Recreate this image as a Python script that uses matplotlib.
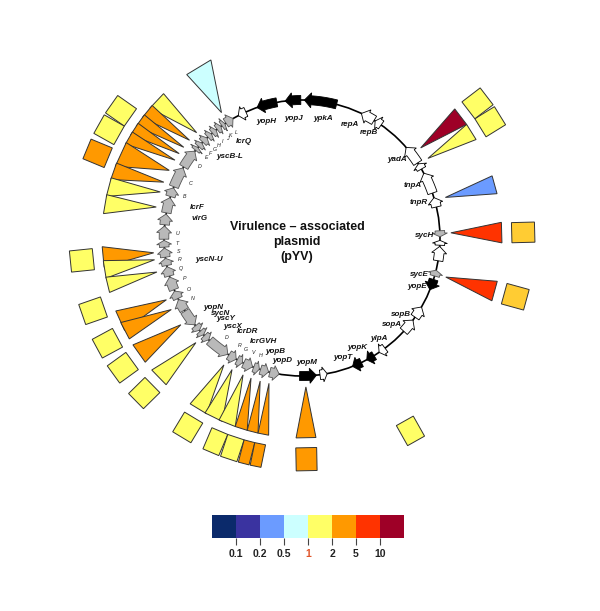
import numpy as np
import matplotlib
matplotlib.use("Agg")
import matplotlib.pyplot as plt
from matplotlib.patches import Polygon, Circle
from matplotlib.colors import ListedColormap, BoundaryNorm, to_rgb
from matplotlib.cm import ScalarMappable

plt.rcParams['font.family'] = ['Liberation Sans', 'DejaVu Sans']

# fold-change colour key
scale_ticks = ['0.1', '0.2', '0.5', '1', '2', '5', '10']
scale_colors = ['#0b2a6b', '#3a33a0', '#6b9bff', '#ccffff',
                '#ffff66', '#ff9900', '#ff3300', '#9e0027']

# genes on pYV, map position in degrees clockwise from the top
gene_name = ['ypkA', 'yopJ', 'yopH', 'lcrQ', 'repA', 'repB', 'yadA', '', 'tnpA', 'tnpR',
             'sycH', '', '', 'sycE', 'yopE', 'sopB', 'sopA', 'ylpA', 'yopK', 'yopT', '', 'yopM',
             'yopD', 'yopB', 'lcrH', 'lcrV', 'lcrG', 'lcrR', 'lcrD', 'yscX', 'yscY', 'sycN', 'yopN',
             'yscN', 'yscO', 'yscP', 'yscQ', 'yscR', 'yscS', 'yscT', 'yscU', 'virG', 'lcrF',
             'yscB', 'yscC', 'yscD', 'yscE', 'yscF', 'yscG', 'yscH', 'yscI', 'yscJ', 'yscK', 'yscL']
gene_start = [1.0, 353.0, 341.0, 332.5, 25.5, 32.0, 49.0, 57.5, 62.0, 73.0,
              87.0, 91.0, 93.5, 103.5, 107.5, 120.0, 126.5, 143.0, 148.5, 154.5, 169.5, 174.0,
              189.5, 194.0, 198.0, 201.0, 205.5, 208.5, 212.5, 222.5, 225.5, 228.0, 231.0,
              238.5, 244.0, 248.0, 254.0, 258.5, 262.0, 266.2, 269.5, 275.5, 280.5,
              287.5, 291.8, 301.0, 309.5, 311.5, 314.0, 317.0, 319.5, 322.0, 324.5, 326.5]
gene_end = [14.5, 359.5, 349.5, 336.0, 31.5, 35.0, 57.0, 60.0, 71.0, 77.0,
            89.5, 93.0, 99.5, 106.0, 112.0, 125.0, 132.5, 146.0, 152.0, 158.5, 172.5, 181.0,
            193.5, 197.5, 200.5, 205.0, 208.0, 212.0, 222.0, 225.0, 227.5, 230.5, 238.0,
            243.5, 247.4, 253.6, 258.0, 261.5, 265.8, 269.0, 275.0, 280.0, 287.0,
            291.3, 300.5, 309.0, 311.0, 313.5, 316.5, 319.0, 321.5, 324.0, 326.0, 330.0]
gene_strand = [-1, -1, -1, -1, -1, -1, -1, -1, -1, -1,
               1, -1, -1, -1, 1, -1, -1, 1, 1, 1, -1, -1,
               -1, -1, -1, -1, -1, -1, -1, -1, -1, -1, -1,
               1, 1, 1, 1, 1, 1, 1, 1, 1, 1,
               1, 1, 1, 1, 1, 1, 1, 1, 1, 1, 1]
gene_type = ['yop', 'yop', 'yop', 'other', 'other', 'other', 'other', 'other', 'other', 'other',
             'ysc', 'other', 'other', 'ysc', 'yop', 'other', 'other', 'other', 'yop', 'yop', 'other', 'yop'] \
            + ['ysc'] * 32
tagged = ['lcrH', 'lcrV', 'lcrG', 'lcrR', 'lcrD',
          'yscN', 'yscO', 'yscP', 'yscQ', 'yscR', 'yscS', 'yscT', 'yscU',
          'yscB', 'yscC', 'yscD', 'yscE', 'yscF', 'yscG', 'yscH', 'yscI', 'yscJ', 'yscK', 'yscL']

# triangles (first fold-change series): tip at the gene, base span
tri_tip = [327.3, 315.0, 311.0, 307.5, 304.5, 301.5, 297.0, 292.0, 288.0, 282.0,
           264.3, 261.6, 256.8, 245.5, 241.3, 234.4, 225.4,
           211.6, 208.0, 203.3, 200.0, 196.3, 192.8,
           178.5, 105.2, 88.0, 74.2, 57.7, 52.8]
tri_from = [324.8, 310.5, 307.0, 304.0, 301.0, 298.0, 291.0, 287.0, 282.0, 277.0,
            261.6, 258.4, 254.2, 242.5, 239.7, 231.6, 222.8,
            208.5, 203.5, 199.5, 195.9, 192.7, 189.6,
            176.0, 102.5, 85.5, 71.9, 55.4, 49.8]
tri_to = [332.9, 316.2, 311.5, 308.0, 305.0, 302.0, 298.5, 292.0, 287.5, 282.5,
          267.5, 263.5, 258.7, 248.6, 245.0, 237.7, 228.7,
          214.0, 209.0, 204.5, 199.5, 195.9, 192.7,
          181.7, 108.3, 91.4, 77.2, 60.5, 55.4]
tri_level = [3, 4, 5, 5, 5, 5, 5, 5, 4, 4,
             5, 4, 4, 5, 5, 5, 4,
             4, 4, 4, 5, 5, 5,
             5, 6, 6, 2, 4, 7]

# squares (second fold-change series)
sq_from = [302.2, 296.4, 289.6, 261.3, 247.9, 238.7, 231.2, 222.6,
           208.2, 200.7, 196.0, 193.0, 190.0, 176.0, 148.0, 102.5, 85.8, 55.4, 49.6]
sq_to = [308.0, 302.2, 295.4, 267.1, 253.7, 244.5, 237.0, 228.4,
         214.0, 205.4, 200.7, 196.0, 193.0, 181.7, 153.3, 108.3, 91.3, 61.2, 55.4]
sq_level = [4, 4, 5, 4, 4, 4, 4, 4,
            4, 4, 4, 5, 5, 5, 4, 4.5, 4.5, 4, 4]

# gene labels: text, angle, distance from centre
lab_text = ['yopH', 'yopJ', 'ypkA', 'repA', 'repB', 'yadA', 'tnpA', 'tnpR', 'sycH', 'sycE',
            'yopE', 'sopB', 'sopA', 'ylpA', 'yopK', 'yopT', 'yopM', 'yopD', 'yopB', 'lcrGVH',
            'lcrDR', 'yscX', 'yscY', 'sycN', 'yopN', 'yscN-U', 'virG', 'lcrF', 'yscB-L', 'lcrQ']
lab_angle = [342.8, 356.0, 9.9, 23.2, 32.7, 50.6, 64.5, 73.0, 88.6, 107.5,
             113.0, 127.7, 134.0, 142.5, 153.4, 161.0, 177.7, 189.0, 193.0, 200.3,
             210.0, 217.8, 223.2, 227.2, 232.2, 257.2, 281.0, 286.5, 318.2, 329.3]
lab_r = [121.5, 120.0, 121.8, 123.0, 124.8, 123.0, 123.0, 122.4, 122.5, 123.0,
         125.0, 124.4, 125.0, 127.0, 123.0, 125.9, 125.0, 124.5, 116.5, 110.5,
         108.5, 112.6, 111.0, 110.4, 112.6, 94.9, 104.4, 109.0, 108.7, 112.8]

cx, cy, R = 302.0, 238.0, 138.0
r_tip, r_base = 149.0, 200.0
r_sq_in, r_sq_out = 210.0, 233.0


def pol(a, r):
    t = np.radians(a)
    return cx + r * np.sin(t), cy - r * np.cos(t)


def level_color(lv):
    lo, hi = int(np.floor(lv)), int(np.ceil(lv))
    f = lv - lo
    return tuple((1 - f) * np.array(to_rgb(scale_colors[lo])) + f * np.array(to_rgb(scale_colors[hi])))


fig = plt.figure(figsize=(6, 6.11), dpi=100)
ax = fig.add_axes([0, 0, 1, 1])
ax.set_xlim(0, 600)
ax.set_ylim(611, 0)
ax.axis('off')

# squares
for a0, a1, lv in zip(sq_from, sq_to, sq_level):
    mid = np.radians((a0 + a1) / 2)
    p0 = np.array(pol(a0, r_sq_in))
    p1 = np.array(pol(a1, r_sq_in))
    d = (r_sq_out - r_sq_in) * np.array([np.sin(mid), -np.cos(mid)])
    ax.add_patch(Polygon([p0, p1, p1 + d, p0 + d], closed=True, fc=level_color(lv),
                         ec='#333333', lw=0.7))

# triangles
for tip, a0, a1, lv in zip(tri_tip, tri_from, tri_to, tri_level):
    ax.add_patch(Polygon([pol(a0, r_base), pol(a1, r_base), pol(tip, r_tip)], closed=True,
                         fc=level_color(lv), ec='#333333', lw=0.7))

# plasmid backbone
ax.add_patch(Circle((cx, cy), R, fill=False, ec='black', lw=1.2))

# genes
styles = {'yop': ('black', 'black'), 'ysc': ('#b9b9b9', '#555555'), 'other': ('white', 'black')}
for name, a0, a1, s, kind in zip(gene_name, gene_start, gene_end, gene_strand, gene_type):
    tail, tip = (a0, a1) if s > 0 else (a1, a0)
    hl = min(2.8, 0.6 * (a1 - a0))
    neck = tip - s * hl
    bw, hw = (4.5, 7.5) if kind == 'yop' else (4.8, 7.5)
    arc = np.linspace(tail, neck, 12)
    pts = [pol(t, R + bw) for t in arc]
    pts += [pol(neck, R + hw), pol(tip, R), pol(neck, R - hw)]
    pts += [pol(t, R - bw) for t in arc[::-1]]
    fc, ec = styles[kind]
    ax.add_patch(Polygon(pts, closed=True, fc=fc, ec=ec, lw=0.6, zorder=3))
    if name in tagged:
        x, y = pol((a0 + a1) / 2, 124.5)
        ax.text(x, y, name[3], fontsize=3.8, style='italic', ha='center', va='center', color='#222222')

for t, a, r in zip(lab_text, lab_angle, lab_r):
    x, y = pol(a, r)
    ax.text(x, y, t, fontsize=5.8, style='italic', fontweight='bold', ha='center', va='center',
            color='#111111', zorder=4)

ax.text(cx - 5, cy + 4, 'Virulence \u2013 associated\nplasmid\n(pYV)', fontsize=9,
        fontweight='bold', ha='center', va='center', linespacing=1.35, color='#111111')

# colour key
cax = fig.add_axes([212 / 600, 1 - 538 / 611, 192 / 600, 23 / 611])
sm = ScalarMappable(norm=BoundaryNorm(np.arange(9), 8), cmap=ListedColormap(scale_colors))
cb = fig.colorbar(sm, cax=cax, orientation='horizontal', ticks=np.arange(1, 8))
cb.outline.set_visible(False)
cb.ax.minorticks_off()
cb.ax.set_xticks(np.arange(1, 8))
cb.ax.set_xticklabels(scale_ticks, fontsize=7.5, fontweight='bold', color='#222222')
cb.ax.tick_params(length=5, width=0.8, color='#444444', pad=3)
cb.ax.get_xticklabels()[3].set_color('#e0552a')

fig.savefig('out.png', dpi=100, facecolor='white')
